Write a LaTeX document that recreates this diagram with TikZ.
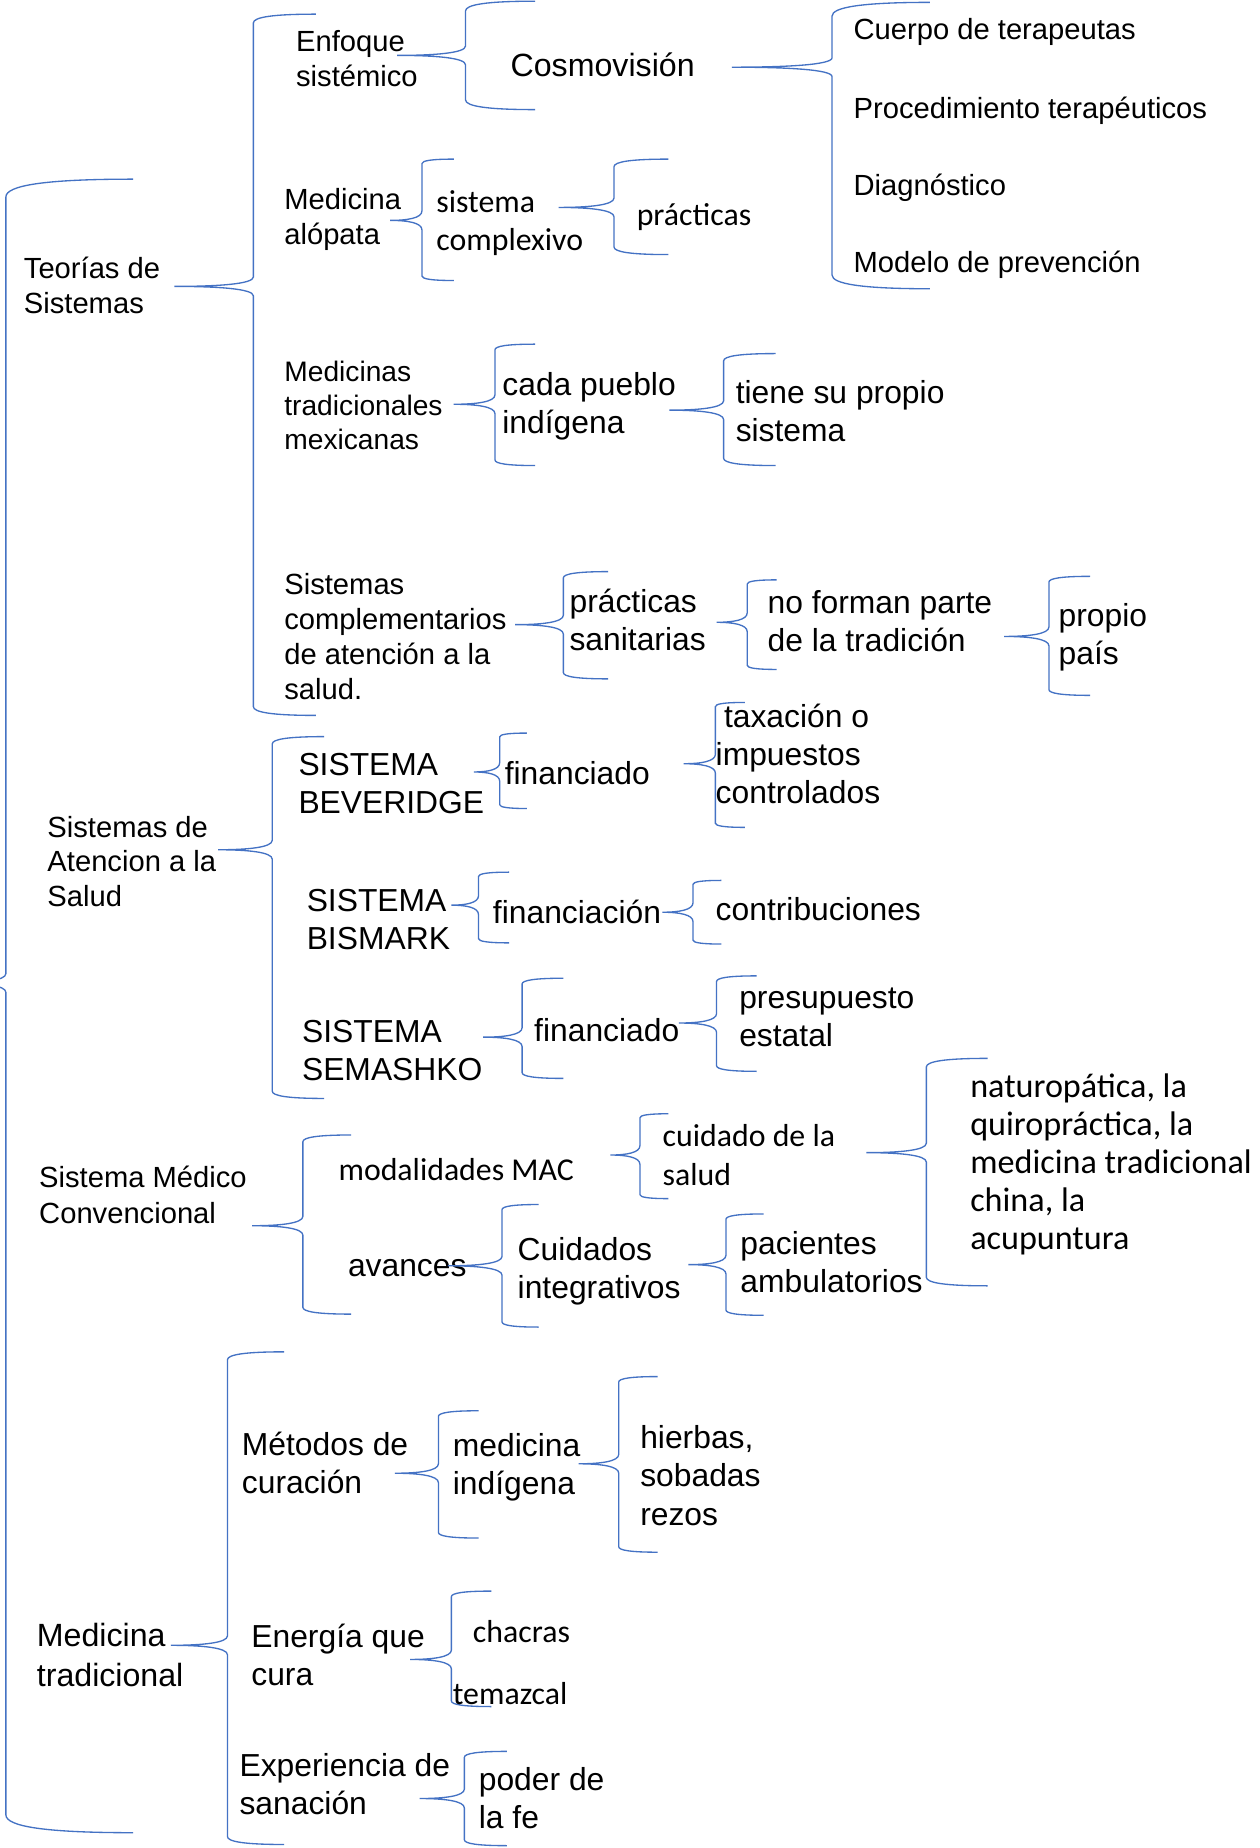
\documentclass[tikz,border=0pt]{standalone}
\usepackage{fontspec}
\setmainfont{Liberation Sans}
\newfontfamily\calfont{Carlito}
\definecolor{brcblue}{HTML}{4472C4}
\newcommand{\curlyb}[6]{%
  \draw[brc] (#6,#4) .. controls ({#3+0.3*(#6-#3)},#4) and (#3,{#4+0.05*(#6-#3)}) .. (#3,{#4+0.14*(#6-#3)})
    -- (#3,{#2-8}) .. controls (#3,{#2-2}) and ({#1+0.55*(#3-#1)},#2) .. (#1,#2)
    .. controls ({#1+0.55*(#3-#1)},#2) and (#3,{#2+2}) .. (#3,{#2+8})
    -- (#3,{#5-0.14*(#6-#3)}) .. controls (#3,{#5-0.05*(#6-#3)}) and ({#3+0.3*(#6-#3)},#5) .. (#6,#5);
}
\begin{document}
\begin{tikzpicture}[
  x=0.025cm, y=-0.025cm,
  brc/.style={draw=brcblue, line width=0.8pt},
  small/.style={anchor=west, inner sep=0pt, align=left, font=\fontsize{17.6}{21}\selectfont},
  big/.style={anchor=west, inner sep=0pt, align=left, font=\fontsize{19.2}{23}\selectfont},
  calb/.style={anchor=west, inner sep=0pt, align=left, font=\calfont\fontsize{19.2}{23}\selectfont}
]
\useasboundingbox (0,0) rectangle (1069,1568);
\clip (0,0) rectangle (1069,1568);
\fill[white] (0,0) rectangle (1069,1568);

\curlyb{-40}{834}{5}{152}{1555}{113}
\node[small] (teorias) at (20,242) {Teorías de\\Sistemas};
\curlyb{148}{243}{215}{12}{607}{268}
\node[small] (enfoque) at (251,50) {Enfoque\\sistémico};
\curlyb{337}{47}{395}{1}{93}{454}
\node[big, font=\fontsize{19.4}{23}\selectfont] (cosmo) at (433,55) {Cosmovisión};
\curlyb{621}{57}{706}{2}{245}{789}
\node[small] (cuerpo) at (724,27) {Cuerpo de terapeutas};
\node[small] (proced) at (724,94) {Procedimiento terapéuticos};
\node[small] (diag) at (724,159) {Diagnóstico};
\node[small] (modelo) at (724,225) {Modelo de prevención};

\node[small] (alopata) at (241,186) {Medicina\\alópata};
\curlyb{331}{187}{358}{135}{238}{385}
\node[calb] (complexivo) at (370,189) {sistema\\complexivo};
\curlyb{474}{176}{521}{135}{216}{567}
\node[calb] (practicas) at (540,184) {prácticas};

\node[small, font=\fontsize{17}{20.3}\selectfont] (mexicanas) at (241,344) {Medicinas\\tradicionales\\mexicanas};
\curlyb{385}{343}{420}{292}{395}{454}
\node[big] (pueblo) at (426,345) {cada pueblo\\indígena};
\curlyb{568}{348}{614}{300}{395}{658}
\node[big] (propio) at (624,349) {tiene su propio\\sistema};

\node[small] (complem) at (241,540) {Sistemas\\complementarios\\de atención a la\\salud.};
\curlyb{437}{530}{478}{485}{576}{516}
\node[big] (sanitarias) at (483,526) {prácticas\\sanitarias};
\curlyb{608}{528}{634}{492}{568}{659}
\node[big] (tradicion) at (651,527) {no forman parte\\de la tradición};
\curlyb{852}{540}{890}{489}{590}{925}
\node[big] (pais) at (898,541) {propio\\país};

\node[small] (atencion) at (40,731) {Sistemas de\\Atencion a la\\Salud};
\curlyb{185}{721}{231}{625}{932}{275}
\node[big] (beveridge) at (253,665) {SISTEMA\\BEVERIDGE};
\curlyb{402}{655}{424}{622}{686}{447}
\node[big] (financiadoA) at (428,656) {financiado};
\curlyb{580}{648}{607}{596}{702}{632}
\node[big] (taxacion) at (607,640) {\hspace*{5pt}taxación o\\impuestos\\controlados};
\node[big] (bismark) at (260,780) {SISTEMA\\BISMARK};
\curlyb{383}{768}{406}{740}{800}{432}
\node[big] (financiacion) at (418,774) {financiación};
\curlyb{562}{774}{588}{747}{801}{612}
\node[big] (contrib) at (607,771) {contribuciones};
\node[big] (semashko) at (256,891) {SISTEMA\\SEMASHKO};
\curlyb{410}{880}{443}{830}{915}{478}
\node[big] (financiadoB) at (453,874) {financiado};
\curlyb{576}{868}{608}{828}{909}{642}
\node[big] (presupuesto) at (627,863) {presupuesto\\estatal};

\node[small, font=\fontsize{17.6}{22}\selectfont] (medico) at (33,1014) {Sistema Médico\\Convencional};
\curlyb{214}{1040}{257}{963}{1115}{298}
\node[calb] (mac) at (287,992) {modalidades MAC};
\curlyb{518}{980}{543}{945}{1017}{567}
\node[calb] (cuidado) at (562,980) {cuidado de la\\salud};
\curlyb{735}{978}{786}{898}{1091}{838}
\node[calb, font=\calfont\fontsize{20.6}{23}\selectfont] (naturo) at (823,988) {naturopática, la\\quiropráctica, la\\medicina tradicional\\china, la\\acupuntura};
\node[big] (avances) at (295,1076) {avances};
\curlyb{380}{1074}{426}{1022}{1126}{457}
\node[big] (integrativos) at (439,1079) {Cuidados\\integrativos};
\curlyb{584}{1073}{616}{1030}{1116}{648}
\node[big] (ambulatorios) at (628,1071) {pacientes\\ambulatorios};

\node[big, font=\fontsize{19.4}{24}\selectfont] (tradicional) at (31,1404) {Medicina\\tradicional};
\curlyb{145}{1396}{193}{1147}{1565}{241}
\node[big] (metodos) at (205,1241) {Métodos de\\curación};
\curlyb{335}{1250}{372}{1197}{1305}{406}
\node[big] (indigena) at (384,1245) {medicina\\indígena};
\curlyb{491}{1242}{525}{1168}{1317}{558}
\node[big] (hierbas) at (543,1252) {hierbas,\\sobadas\\rezos};
\node[big] (energia) at (213,1404) {Energía que\\cura};
\curlyb{348}{1408}{383}{1350}{1448}{417}
\node[calb] (chacras) at (401,1384) {chacras};
\node[calb] (temazcal) at (384,1437) {temazcal};
\node[big] (experiencia) at (203,1514) {Experiencia de\\sanación};
\curlyb{356}{1526}{394}{1486}{1566}{430}
\node[big] (fe) at (406,1526) {poder de\\la fe};
\end{tikzpicture}
\end{document}
